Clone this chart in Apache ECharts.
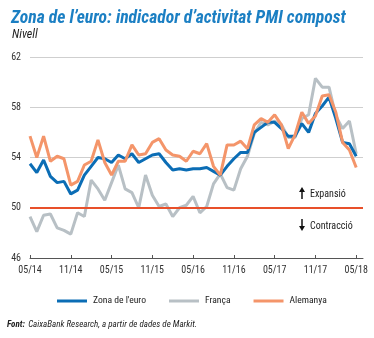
<!DOCTYPE html>
<html><head><meta charset="utf-8">
<script src="https://cdn.jsdelivr.net/npm/echarts@6/dist/echarts.min.js"></script>
<style>html,body{margin:0;padding:0;background:#fff}#c{width:374px;height:338px}</style>
</head><body><div id="c"></div>
<script>
const months = ['05/14','06/14','07/14','08/14','09/14','10/14','11/14','12/14',
 '01/15','02/15','03/15','04/15','05/15','06/15','07/15','08/15','09/15','10/15','11/15','12/15',
 '01/16','02/16','03/16','04/16','05/16','06/16','07/16','08/16','09/16','10/16','11/16','12/16',
 '01/17','02/17','03/17','04/17','05/17','06/17','07/17','08/17','09/17','10/17','11/17','12/17',
 '01/18','02/18','03/18','04/18','05/18','06/18'];
const tickLabels = ['05/14','11/14','05/15','11/15','05/16','11/16','05/17','11/17','05/18'];
const zonaEuro = [53.5,52.8,53.8,52.5,52.0,52.1,51.1,51.4,
 52.6,53.3,54.0,53.9,53.6,54.2,53.9,54.3,53.6,53.9,54.2,54.3,
 53.6,53.0,53.1,53.0,53.1,53.1,53.2,52.9,52.6,53.3,53.9,54.4,
 54.4,56.0,56.4,56.8,56.8,56.3,55.7,55.7,56.7,56.0,57.5,58.1,
 58.8,57.1,55.2,55.1,54.1];
const franca = [49.3,48.1,49.4,49.5,48.4,48.2,47.9,49.6,
 49.3,52.2,51.5,50.6,52.0,53.4,51.5,51.2,50.0,52.6,51.0,50.1,
 50.3,49.3,50.0,50.2,50.9,49.6,50.1,51.9,52.7,51.6,51.4,53.1,
 54.1,55.9,56.8,56.6,56.9,56.6,55.6,55.6,57.1,57.4,60.3,59.6,
 59.6,57.3,56.3,56.9,54.3];
const alemanya = [55.7,54.0,55.7,53.7,54.1,53.9,51.8,52.1,
 53.4,53.7,55.4,53.6,52.6,53.7,53.7,55.0,54.2,54.3,55.2,55.5,
 54.6,54.2,54.1,53.7,54.5,54.3,55.1,53.3,52.6,55.0,55.0,55.3,
 54.7,56.6,57.1,56.8,57.4,56.6,54.7,55.8,57.6,56.7,57.3,58.9,
 59.0,57.6,55.2,54.6,53.2];
const yTicks = [46,50,54,58,62];
const threshold = 50;

const FONT = "'Roboto Condensed',sans-serif";
const C_BLUE = '#0b6db5', C_GREY = '#b8c0c5', C_ORANGE = '#f4956a', C_RED = '#e8502a';

const chart = echarts.init(document.getElementById('c'), null, {renderer:'canvas'});
chart.setOption({
  animation: false,
  title: [
    {text: 'Zona de l\u2019euro: indicador d\u2019activitat PMI compost', left: 6, top: 5,
     textStyle: {fontFamily: FONT, fontSize: 17.6, fontWeight: 'bold', fontStyle: 'italic', color: '#1b7fc3'}},
    {text: 'Nivell', left: 7, top: 24,
     textStyle: {fontFamily: FONT, fontSize: 12, fontWeight: 'normal', fontStyle: 'italic', color: '#222'}}
  ],
  grid: {left: 30, right: 11, top: 57, bottom: 80, containLabel: false},
  legend: {
    left: 52, top: 291, itemWidth: 30, itemHeight: 3, itemGap: 23, icon: 'rect',
    data: ['Zona de l\'euro','França','Alemanya'],
    textStyle: {fontFamily: FONT, fontSize: 9.6, color: '#222', padding: [0,0,0,1]}
  },
  xAxis: {
    type: 'category', data: months, boundaryGap: false,
    axisLine: {lineStyle: {color: '#555', width: 1}},
    axisTick: {show: true, inside: true, length: 3, interval: 5, lineStyle: {color: '#555'}},
    axisLabel: {interval: 5, margin: 7, fontFamily: FONT, fontSize: 10, color: '#333',
      formatter: v => tickLabels.includes(v) ? v : ''},
    splitLine: {show: false}
  },
  yAxis: {
    type: 'value', min: yTicks[0], max: yTicks[yTicks.length-1], interval: 4,
    axisLine: {show: false}, axisTick: {show: false},
    axisLabel: {margin: 9, fontFamily: FONT, fontSize: 10, color: '#333'},
    splitLine: {lineStyle: {color: '#cfcfcf', width: 1}}
  },
  series: [
    {name: 'França', type: 'line', data: franca, symbol: 'none', z: 2,
     lineStyle: {color: C_GREY, width: 3}, itemStyle: {color: C_GREY},
     markLine: {silent: true, symbol: 'none', label: {show: false},
       lineStyle: {color: C_RED, width: 2, type: 'solid'}, data: [{yAxis: threshold}]}},
    {name: 'Zona de l\'euro', type: 'line', data: zonaEuro, symbol: 'none', z: 3,
     lineStyle: {color: C_BLUE, width: 3}, itemStyle: {color: C_BLUE}},
    {name: 'Alemanya', type: 'line', data: alemanya, symbol: 'none', z: 4,
     lineStyle: {color: C_ORANGE, width: 3}, itemStyle: {color: C_ORANGE}}
  ],
  graphic: [
    {type: 'line', shape: {x1: 302, y1: 199, x2: 302, y2: 191}, style: {stroke: '#111', lineWidth: 1.5}},
    {type: 'polygon', shape: {points: [[299, 192],[305, 192],[302, 187]]}, style: {fill: '#111'}},
    {type: 'text', left: 310, top: 189, style: {text: 'Expansió', font: '10px ' + FONT, fill: '#222'}},
    {type: 'line', shape: {x1: 302, y1: 219, x2: 302, y2: 227}, style: {stroke: '#111', lineWidth: 1.5}},
    {type: 'polygon', shape: {points: [[299, 226],[305, 226],[302, 231]]}, style: {fill: '#111'}},
    {type: 'text', left: 310, top: 221, style: {text: 'Contracció', font: '10px ' + FONT, fill: '#222'}},
    {type: 'text', left: 7, top: 319, style: {
      text: '{b|Font:} {i|CaixaBank Research, a partir de dades de Markit.}',
      rich: {
        b: {fontFamily: FONT, fontSize: 9, fontWeight: 'bold', fontStyle: 'italic', fill: '#222'},
        i: {fontFamily: FONT, fontSize: 9, fontStyle: 'italic', fill: '#222'}
      }}}
  ]
});
</script></body></html>
